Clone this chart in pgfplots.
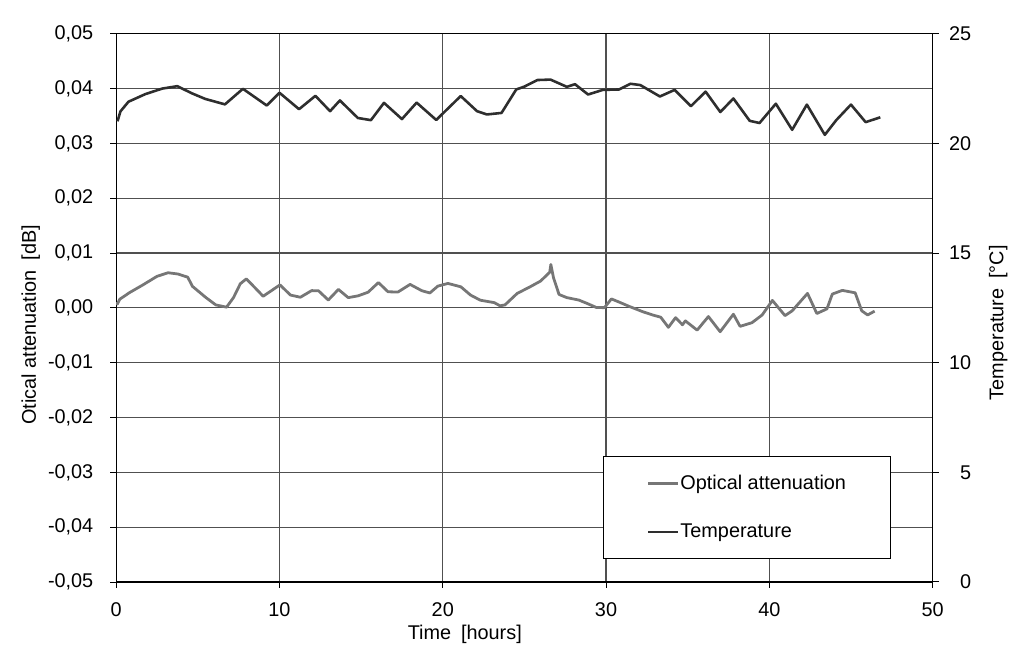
\documentclass[border=0pt]{standalone}
\usepackage{pgfplots}
\pgfplotsset{compat=1.18}
\usepackage{fontspec}
\setmainfont{Liberation Sans}
\definecolor{gridc}{HTML}{505050}
\definecolor{tempc}{HTML}{2E2E2E}
\definecolor{optc}{HTML}{767676}
\begin{document}
\begin{tikzpicture}[font=\fontsize{10}{12}\selectfont]
\pgfplotsset{
  every axis/.append style={
    scale only axis, width=411pt, height=276pt,
    xmin=0, xmax=50,
    tick align=outside, major tick length=3pt,
    tick style={black, line width=0.5pt},
    /pgf/number format/assume math mode=true,
    tick label style={font=\fontsize{10}{12}\selectfont},
    label style={font=\fontsize{10}{12}\selectfont},
  }
}
\begin{axis}[
  ymin=-0.05, ymax=0.05,
  scaled y ticks=false,
  ytick={-0.05,-0.04,-0.03,-0.02,-0.01,0,0.01,0.02,0.03,0.04,0.05},
  yticklabels={{-0,05},{-0,04},{-0,03},{-0,02},{-0,01},{0,00},{0,01},{0,02},{0,03},{0,04},{0,05}},
  xtick={0,10,20,30,40,50},
  ytick pos=left, xtick pos=bottom,
  xmajorgrids, ymajorgrids,
  grid style={gridc, line width=0.6pt},
  axis line style={black, line width=0.7pt},
  yticklabel style={xshift=-5pt},
  xticklabel style={yshift=-4pt},
  xlabel={Time\enspace[hours]},
  xlabel style={at={(axis description cs:0.427,0)}, anchor=center, yshift=-26.5pt},
  ylabel={Otical attenuation\enspace[dB]},
  ylabel style={at={(axis description cs:0,0.469)}, anchor=center, yshift=43pt},
]
\addplot[optc, line width=1.4pt, line join=round] coordinates {
(0.02,0.00105) (0.07,0.00069) (0.22,0.00158) (0.82,0.00279) (1.63,0.00418) (2.49,0.00574)
(3.17,0.00641) (3.78,0.00618) (4.38,0.00560) (4.67,0.00393) (5.50,0.00187) (6.10,0.00054)
(6.76,0.00013) (7.19,0.00190) (7.60,0.00440) (7.97,0.00529) (8.52,0.00361) (9.00,0.00212)
(9.60,0.00333) (10.03,0.00420) (10.67,0.00234) (11.28,0.00194) (11.97,0.00315) (12.39,0.00312)
(12.99,0.00143) (13.61,0.00337) (14.21,0.00187) (14.82,0.00220) (15.43,0.00286) (16.06,0.00462)
(16.65,0.00293) (17.26,0.00290) (18.00,0.00428) (18.72,0.00313) (19.21,0.00272) (19.70,0.00397)
(20.32,0.00446) (21.11,0.00384) (21.70,0.00234) (22.30,0.00140) (23.15,0.00096) (23.51,0.00038)
(23.81,0.00054) (24.56,0.00264) (25.36,0.00386) (25.99,0.00489) (26.55,0.00649) (26.62,0.00792)
(26.78,0.00554) (27.12,0.00245) (27.60,0.00187) (28.33,0.00143) (28.81,0.00085) (29.41,0.00007)
(29.90,0.00004) (30.33,0.00163) (30.81,0.00105) (31.42,0.00027) (32.26,-0.00071) (32.86,-0.00130)
(33.35,-0.00170) (33.82,-0.00355) (34.26,-0.00178) (34.68,-0.00308) (34.86,-0.00237) (35.58,-0.00406)
(36.27,-0.00158) (36.99,-0.00435) (37.80,-0.00116) (38.21,-0.00337) (38.94,-0.00270) (39.56,-0.00130)
(40.19,0.00136) (40.96,-0.00141) (41.40,-0.00054) (42.34,0.00264) (42.91,-0.00103) (43.53,-0.00018)
(43.86,0.00252) (44.47,0.00319) (45.26,0.00275) (45.66,-0.00053) (46.02,-0.00129) (46.45,-0.00060)
};
\end{axis}
\begin{axis}[
  ymin=0, ymax=25, ytick={0,5,10,15,20,25},
  axis y line*=right, axis x line=none,
  axis line style={black, line width=0.7pt},
  yticklabel style={anchor=east, xshift=20pt},
  ylabel={Temperature\enspace[°C]},
  ylabel style={at={(axis description cs:1,0.473)}, anchor=center, yshift=-33pt},
  legend style={at={(axis description cs:0.596,0.042)}, anchor=south west,
    draw=black, line width=0.6pt, fill=white, inner xsep=22pt, inner ysep=7pt,
    row sep=12pt, font=\fontsize{10}{12}\selectfont,
    nodes={inner xsep=0.5pt}},
  legend cell align=left,
  legend image code/.code={\draw[#1] (0pt,0pt) -- (15pt,0pt);},
]
\addlegendimage{optc, line width=1.2pt}
\addlegendentry{Optical attenuation}
\addplot[tempc, line width=1.3pt, line join=round] coordinates {
(0.08,21.01) (0.26,21.46) (0.75,21.90) (1.79,22.25) (2.82,22.50) (3.74,22.61) (4.65,22.28)
(5.45,22.03) (6.66,21.78) (7.76,22.49) (9.22,21.73) (10.0,22.31) (11.2,21.56) (12.2,22.17)
(13.1,21.47) (13.7,21.96) (14.8,21.16) (15.6,21.06) (16.4,21.85) (17.5,21.11) (18.4,21.86)
(19.6,21.07) (21.1,22.16) (22.1,21.47) (22.7,21.32) (23.6,21.39) (24.5,22.46) (25.0,22.59)
(25.8,22.89) (26.6,22.91) (27.6,22.58) (28.1,22.70) (28.9,22.23) (29.8,22.44) (30.8,22.46)
(31.5,22.72) (32.1,22.66) (33.3,22.14) (34.2,22.44) (35.2,21.70) (36.1,22.36) (37.0,21.43)
(37.8,22.05) (38.8,21.03) (39.4,20.93) (40.4,21.81) (41.4,20.62) (42.3,21.77) (43.4,20.39)
(44.1,21.06) (45.0,21.77) (45.9,20.97) (46.8,21.19)
};
\addlegendentry{Temperature}
\end{axis}
\path[use as bounding box] (-58.5pt,-33pt) rectangle (448.5pt,293pt);
\end{tikzpicture}
\end{document}
